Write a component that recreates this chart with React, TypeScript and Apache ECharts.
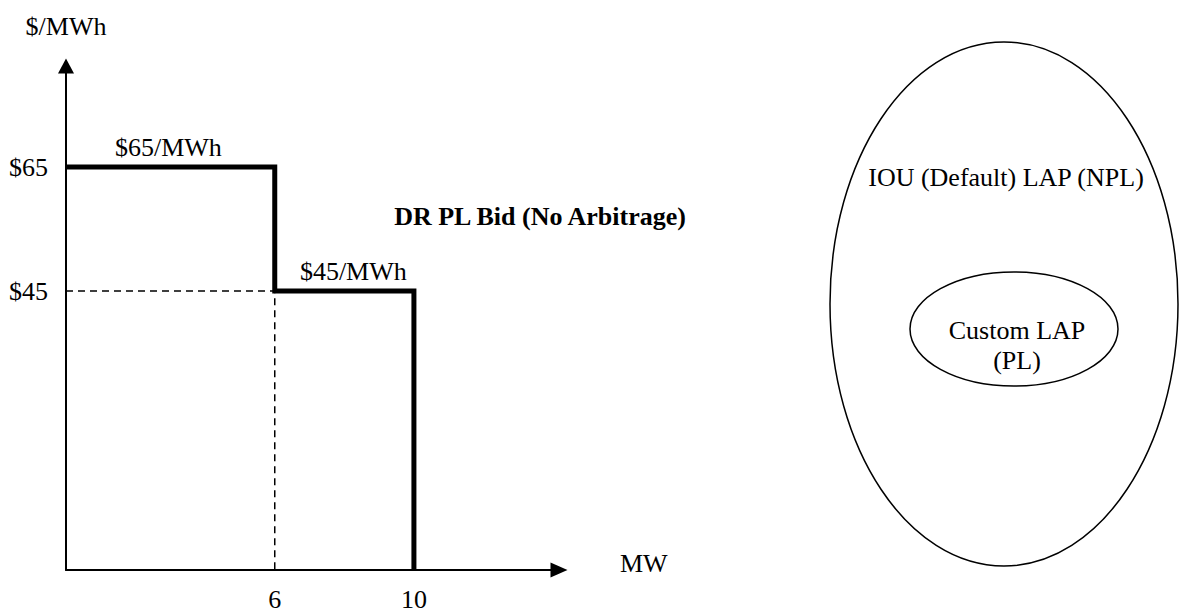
import React, { useEffect, useRef } from "react";
import * as echarts from "echarts";

// ---- data ----
const SEGMENT_MW_START = [0, 6];
const SEGMENT_MW_END = [6, 10];
const SEGMENT_PRICE = [65, 45];
const X_TICKS = [6, 10];
const Y_TICKS = [65, 45];
const X_AXIS_NAME = "MW";
const Y_AXIS_NAME = "$/MWh";
const BID_TITLE = "DR PL Bid (No Arbitrage)";
const OUTER_LABEL = "IOU (Default) LAP (NPL)";
const INNER_LABEL = ["Custom LAP", "(PL)"];

const FONT = "Liberation Serif";

export default function App() {
  const ref = useRef<HTMLDivElement>(null);

  useEffect(() => {
    if (!ref.current) return;
    const chart = echarts.init(ref.current, undefined, { renderer: "svg" });

    // step curve built from the segments
    const step: number[][] = [];
    SEGMENT_PRICE.forEach((p, i) => {
      step.push([SEGMENT_MW_START[i], p]);
      step.push([SEGMENT_MW_END[i], p]);
    });
    step.push([SEGMENT_MW_END[SEGMENT_MW_END.length - 1], 0]);

    // dashed guide to the second step
    const guide = [
      [SEGMENT_MW_START[0], SEGMENT_PRICE[1]],
      [SEGMENT_MW_START[1], SEGMENT_PRICE[1]],
      [SEGMENT_MW_START[1], 0],
    ];

    const segLabels = SEGMENT_PRICE.map((p, i) => ({
      value: [(SEGMENT_MW_START[i] + SEGMENT_MW_END[i]) / 2, p],
      label: { formatter: `$${p}/MWh`, offset: i === 1 ? [9, 0] : [-2, 0] },
    }));

    const txt = { fontFamily: FONT, fontSize: 26, color: "#000" };

    chart.setOption({
      animation: false,
      backgroundColor: "#fff",
      grid: { left: 66, top: 66, width: 493, height: 505, containLabel: false },
      xAxis: {
        type: "value",
        min: 0,
        max: 14.17,
        splitLine: { show: false },
        axisTick: { show: false },
        axisLine: {
          show: true,
          lineStyle: { color: "#000", width: 2 },
          symbol: ["none", "triangle"],
          symbolSize: [15, 17],
        },
        axisLabel: { customValues: X_TICKS, margin: 16, ...txt },
        name: X_AXIS_NAME,
        nameLocation: "end",
        nameGap: 61,
        nameTextStyle: { ...txt, align: "left", verticalAlign: "bottom", lineHeight: 14 },
      },
      yAxis: {
        type: "value",
        min: 0,
        max: 81.3,
        splitLine: { show: false },
        axisTick: { show: false },
        axisLine: {
          show: true,
          lineStyle: { color: "#000", width: 2 },
          symbol: ["none", "triangle"],
          symbolSize: [16, 15],
        },
        axisLabel: {
          customValues: Y_TICKS,
          margin: 18,
          formatter: (v: number) => `$${v}`,
          padding: [0, 0, 8, 0],
          ...txt,
        },
        name: Y_AXIS_NAME,
        nameLocation: "end",
        nameGap: 27,
        nameTextStyle: { ...txt },
      },
      series: [
        {
          type: "line",
          data: guide,
          symbol: "none",
          clip: false,
          z: 2,
          lineStyle: { color: "#000", width: 1.5, type: [7, 5] },
        },
        {
          type: "line",
          data: step,
          symbol: "none",
          clip: false,
          z: 3,
          lineStyle: { color: "#000", width: 5, join: "miter", cap: "butt" },
        },
        {
          type: "scatter",
          data: segLabels,
          symbolSize: 0,
          z: 4,
          itemStyle: { opacity: 1, color: "#000" },
          label: { show: true, position: "top", distance: 7, ...txt },
        },
      ],
      graphic: [
        {
          type: "text",
          x: 540,
          y: 216,
          style: {
            text: BID_TITLE,
            fontFamily: FONT,
            fontSize: 26,
            fontWeight: "bold",
            fill: "#000",
            align: "center",
            verticalAlign: "middle",
            textAlign: "center",
            textVerticalAlign: "middle",
          },
        },
        {
          type: "ellipse",
          shape: { cx: 1004, cy: 304, rx: 174, ry: 262 },
          style: { fill: "none", stroke: "#000", lineWidth: 1.5 },
        },
        {
          type: "ellipse",
          shape: { cx: 1014, cy: 329, rx: 104, ry: 57 },
          style: { fill: "none", stroke: "#000", lineWidth: 1.5 },
        },
        {
          type: "text",
          x: 1006,
          y: 177,
          style: {
            text: OUTER_LABEL,
            fontFamily: FONT,
            fontSize: 26,
            fill: "#000",
            align: "center",
            verticalAlign: "middle",
            textAlign: "center",
            textVerticalAlign: "middle",
          },
        },
        {
          type: "text",
          x: 1017,
          y: 345,
          style: {
            text: INNER_LABEL.join("\n"),
            fontFamily: FONT,
            fontSize: 26,
            lineHeight: 30,
            fill: "#000",
            align: "center",
            verticalAlign: "middle",
            textAlign: "center",
            textVerticalAlign: "middle",
          },
        },
      ],
    });

    return () => chart.dispose();
  }, []);

  return (
    <div
      ref={ref}
      style={{ position: "fixed", left: 0, top: 0, width: 1181, height: 612, background: "#fff" }}
    />
  );
}
